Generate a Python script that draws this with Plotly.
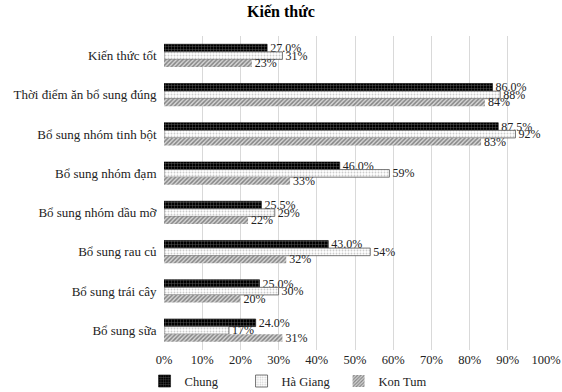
import plotly.graph_objects as go

categories = [
    "Kiến thức tốt",
    "Thời điểm ăn bổ sung đúng",
    "Bổ sung nhóm tinh bột",
    "Bổ sung nhóm đạm",
    "Bổ sung nhóm dầu mỡ",
    "Bổ sung rau củ",
    "Bổ sung trái cây",
    "Bổ sung sữa",
]
chung = [27.0, 86.0, 87.5, 46.0, 25.5, 43.0, 25.0, 24.0]
ha_giang = [31, 88, 92, 59, 29, 54, 30, 17]
kon_tum = [23, 84, 83, 33, 22, 32, 20, 31]
x_ticks = list(range(0, 101, 10))

serif = "Liberation Serif, Times New Roman, serif"

fig = go.Figure()
fig.add_trace(go.Bar(
    name="Chung", y=categories, x=chung, orientation="h",
    text=[f"{v:.1f}%" for v in chung], textposition="outside",
    marker=dict(color="black", line=dict(color="black", width=0.6),
                pattern=dict(shape="+", fgcolor="#cfcfcf", bgcolor="black",
                             size=3, solidity=0.25)),
))
fig.add_trace(go.Bar(
    name="Hà Giang", y=categories, x=ha_giang, orientation="h",
    text=[f"{v:.0f}%" for v in ha_giang], textposition="outside",
    marker=dict(color="white", line=dict(color="#555555", width=0.8),
                pattern=dict(shape=".", fgcolor="#9a9a9a", bgcolor="white",
                             size=3, solidity=0.3)),
))
fig.add_trace(go.Bar(
    name="Kon Tum", y=categories, x=kon_tum, orientation="h",
    text=[f"{v:.0f}%" for v in kon_tum], textposition="outside",
    marker=dict(color="white", line=dict(color="#555555", width=0),
                pattern=dict(shape="/", fgcolor="#333333", bgcolor="#d6d6d6",
                             size=3, solidity=0.5)),
))

fig.update_traces(textfont=dict(family=serif, size=12, color="#222222"),
                  constraintext="none", cliponaxis=False)

fig.update_layout(
    width=562, height=392,
    margin=dict(l=164, r=16, t=36, b=42, autoexpand=False),
    paper_bgcolor="white", plot_bgcolor="white",
    barmode="group", bargap=0.42, bargroupgap=0,
    title=dict(text="<b>Kiến thức</b>", x=0.5, xanchor="center", y=0.985,
               font=dict(family=serif, size=16, color="black")),
    font=dict(family=serif, size=12.5, color="#222222"),
    xaxis=dict(range=[0, 100], tickvals=x_ticks,
               ticktext=[f"{t}%" for t in x_ticks],
               showgrid=True, gridcolor="#d9d9d9", gridwidth=1,
               zeroline=False, showline=False,
               tickfont=dict(family=serif, size=12.5)),
    yaxis=dict(autorange="reversed", showgrid=False, ticks="",
               ticksuffix="  ", tickfont=dict(family=serif, size=13)),
    legend=dict(orientation="h", x=0.33, xanchor="center", y=-0.1,
                yanchor="middle", font=dict(family=serif, size=12.5),
                itemwidth=30, entrywidthmode="pixels", entrywidth=52,
                traceorder="normal"),
)

fig.write_html("out.html")
